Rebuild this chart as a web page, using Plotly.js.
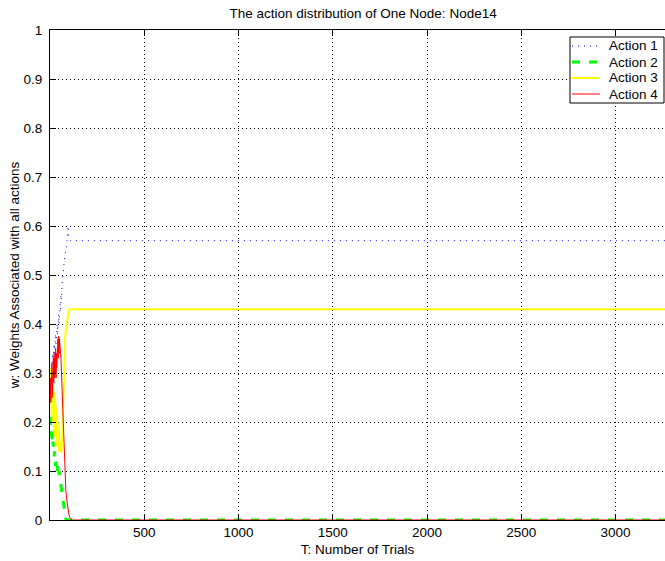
<!DOCTYPE html>
<html>
<head>
<meta charset="utf-8">
<script src="https://cdn.plot.ly/plotly-3.0.1.min.js"></script>
<style>html,body{margin:0;padding:0;background:#fff;}#chart{width:665px;height:561px;}</style>
</head>
<body>
<div id="chart"></div>
<script>
// Trial numbers (T)
const trials = [0, 2, 4, 6, 8, 10, 12, 14, 16, 18, 20, 22, 24, 26, 28, 30, 32, 34, 36, 38, 40, 42, 44, 46, 48, 50, 52, 54, 56, 58, 60,
                64, 68, 72, 76, 80, 84, 88, 92, 96, 100, 104, 108, 112, 120, 200, 3300];
// Weights for each action
const action1 = [0.25, 0.29, 0.27, 0.31, 0.29, 0.33, 0.30, 0.34, 0.32, 0.35, 0.33, 0.36, 0.34, 0.37, 0.35, 0.38, 0.36, 0.39, 0.37, 0.40, 0.38, 0.41, 0.39, 0.42, 0.40, 0.43, 0.41, 0.44, 0.43, 0.46, 0.45,
                 0.48, 0.50, 0.52, 0.53, 0.54, 0.55, 0.56, 0.58, 0.60, 0.575, 0.57, 0.57, 0.57, 0.57, 0.57, 0.57];
const action2 = [0.21, 0.18, 0.20, 0.17, 0.19, 0.16, 0.17, 0.15, 0.16, 0.14, 0.15, 0.13, 0.14, 0.12, 0.13, 0.11, 0.12, 0.10, 0.11, 0.10, 0.11, 0.09, 0.10, 0.09, 0.10, 0.085, 0.09, 0.08, 0.075, 0.07, 0.065,
                 0.05, 0.04, 0.028, 0.016, 0.007, 0.002, 0, 0, 0, 0, 0, 0, 0, 0, 0, 0];
const action3 = [0.30, 0.25, 0.31, 0.23, 0.29, 0.21, 0.27, 0.20, 0.28, 0.19, 0.25, 0.18, 0.26, 0.17, 0.24, 0.18, 0.23, 0.16, 0.22, 0.15, 0.20, 0.16, 0.19, 0.14, 0.18, 0.15, 0.16, 0.14, 0.15, 0.14, 0.138,
                 0.16, 0.21, 0.29, 0.34, 0.37, 0.39, 0.40, 0.41, 0.42, 0.428, 0.43, 0.43, 0.43, 0.43, 0.43, 0.43];
const action4 = [0.25, 0.29, 0.24, 0.31, 0.26, 0.32, 0.25, 0.30, 0.27, 0.33, 0.28, 0.34, 0.29, 0.33, 0.30, 0.35, 0.29, 0.34, 0.31, 0.36, 0.32, 0.37, 0.33, 0.375, 0.34, 0.37, 0.35, 0.36, 0.34, 0.33, 0.31,
                 0.27, 0.20, 0.15, 0.11, 0.085, 0.06, 0.045, 0.03, 0.02, 0.012, 0.006, 0.003, 0.001, 0, 0, 0];
const seriesNames = ['Action 1', 'Action 2', 'Action 3', 'Action 4'];
const xTickVals = [500, 1000, 1500, 2000, 2500, 3000];
const yTickVals = [0, 0.1, 0.2, 0.3, 0.4, 0.5, 0.6, 0.7, 0.8, 0.9, 1];
const yTickText = ['0', '0.1', '0.2', '0.3', '0.4', '0.5', '0.6', '0.7', '0.8', '0.9', '1'];

const FONT = 'Liberation Sans, Arial, Helvetica, sans-serif';
const FS = 13.5;

const lineStyles = [
  {color: '#0000FF', width: 1, dash: '1px,5px'},
  {color: '#00FF00', width: 3, dash: '8px,9px'},
  {color: '#FFFF00', width: 2, dash: 'solid'},
  {color: '#FF0000', width: 1, dash: 'solid'}
];
const seriesValues = [action1, action2, action3, action4];

const traces = seriesValues.map((vals, i) => ({
  x: trials, y: vals, name: seriesNames[i], mode: 'lines', line: lineStyles[i], showlegend: false
}));

// Legend box drawn in paper coordinates (MATLAB-style legend)
const plotL = 50, plotR = 665, plotT = 30, plotB = 520;
const px = v => (v - plotL) / (plotR - plotL);
const py = v => (plotB - v) / (plotB - plotT);
const legendRows = [46, 62, 78, 94];
const shapes = [
  {type: 'rect', xref: 'paper', yref: 'paper', x0: px(570), x1: px(664), y0: py(103), y1: py(37),
   fillcolor: '#fff', line: {color: '#000', width: 1}, layer: 'above'}
];
const annotations = [];
legendRows.forEach((r, i) => {
  shapes.push({type: 'line', xref: 'paper', yref: 'paper', x0: px(572), x1: px(600), y0: py(r), y1: py(r),
               line: lineStyles[i], layer: 'above'});
  annotations.push({xref: 'paper', yref: 'paper', x: px(607), y: py(r), xanchor: 'left', yanchor: 'middle',
                    text: seriesNames[i], showarrow: false, font: {family: FONT, size: FS, color: '#000'}});
});

const axisCommon = {
  showline: true, linecolor: '#000', linewidth: 1,
  ticks: 'inside', ticklen: 6, tickcolor: '#000', tickwidth: 1,
  showgrid: true, gridcolor: '#000', gridwidth: 1, griddash: '1px,3px',
  zeroline: false,
  tickfont: {family: FONT, size: FS, color: '#000'}
};

const layout = {
  width: 665, height: 561,
  margin: {l: 50, r: 0, t: 30, b: 41, pad: 0},
  paper_bgcolor: '#fff', plot_bgcolor: '#fff',
  font: {family: FONT, size: FS, color: '#000'},
  title: {text: 'The action distribution of One Node: Node14', font: {family: FONT, size: FS, color: '#000'},
          xref: 'container', x: 0.546, xanchor: 'center', yref: 'container', y: 0.976, yanchor: 'middle'},
  xaxis: Object.assign({}, axisCommon, {
    range: [0, 3262], tickmode: 'array', tickvals: xTickVals, mirror: 'ticks',
    ticklabelstandoff: 0,
    title: {text: 'T: Number of Trials', font: {family: FONT, size: FS, color: '#000'}, standoff: 5}
  }),
  yaxis: Object.assign({}, axisCommon, {
    range: [0, 1], tickmode: 'array', tickvals: yTickVals, ticktext: yTickText,
    ticklabelstandoff: 4,
    title: {text: 'w: Weights Associated with all actions', font: {family: FONT, size: FS, color: '#000'}, standoff: 0}
  }),
  showlegend: false,
  shapes: shapes,
  annotations: annotations
};

Plotly.newPlot('chart', traces, layout, {displayModeBar: false, staticPlot: true});
</script>
</body>
</html>
